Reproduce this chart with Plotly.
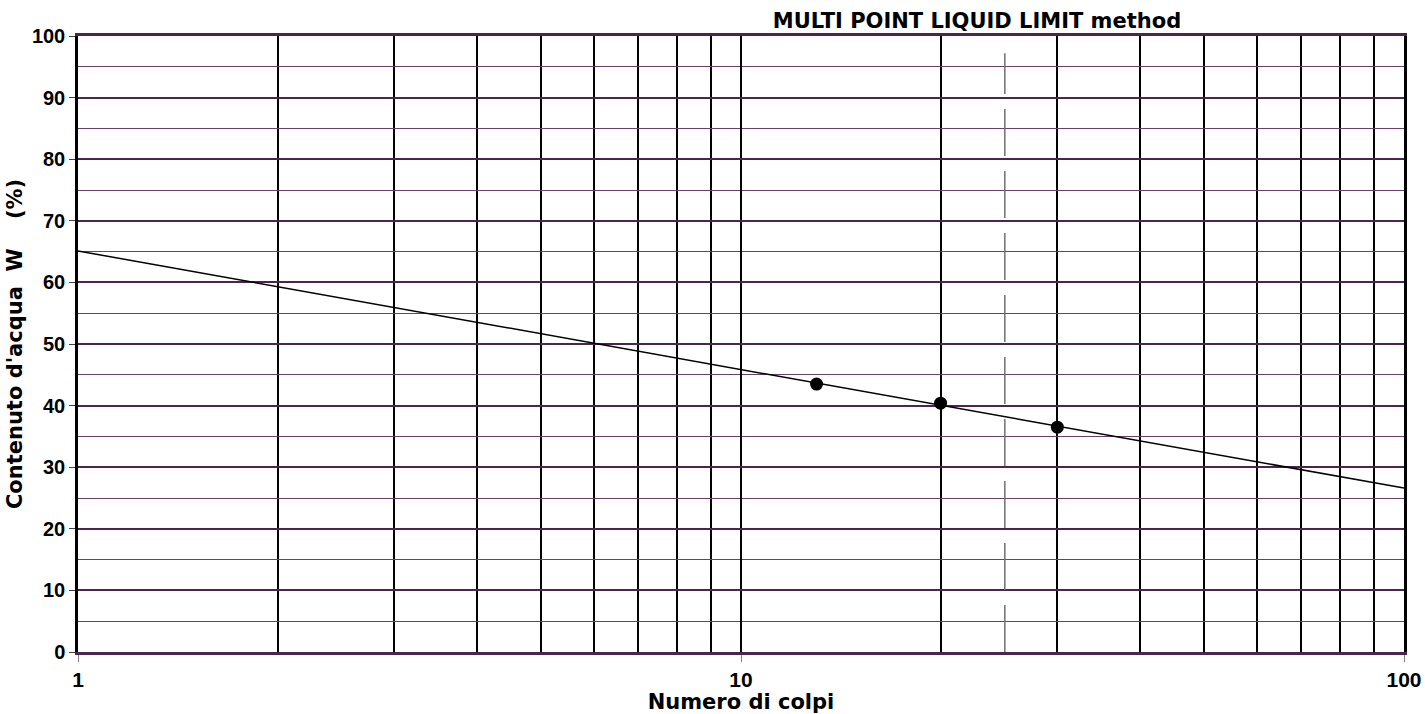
import numpy as np
import plotly.graph_objects as go

# Casagrande cup test results
blows = [13, 20, 30]            # numero di colpi
water = [43.5, 40.4, 36.5]      # contenuto d'acqua W (%)
ll_blows = 25                   # reference blow count for the liquid limit

x_major = [1, 10, 100]
x_minor = [2, 3, 4, 5, 6, 7, 8, 9, 20, 30, 40, 50, 60, 70, 80, 90]
y_ticks = list(range(0, 101, 10))

TICK_FONT = "Liberation Sans, Arial, sans-serif"
TITLE_FONT = "DejaVu Sans, Arial, sans-serif"
PURPLE = "#4f2350"

# Linear fit of W against log10(N), drawn across the whole axis range
slope, intercept = np.polyfit(np.log10(blows), water, 1)
fit_x = np.array([x_major[0], x_major[-1]], dtype=float)
fit_y = intercept + slope * np.log10(fit_x)

fig = go.Figure()

fig.add_trace(go.Scatter(
    x=fit_x, y=fit_y, mode="lines",
    line=dict(color="black", width=1.5),
    hoverinfo="skip", showlegend=False,
))
fig.add_trace(go.Scatter(
    x=blows, y=water, mode="markers",
    marker=dict(color="black", size=13),
    showlegend=False,
))

# dashed vertical line at the 25-blow reference
fig.add_shape(
    type="line", xref="x", yref="paper",
    x0=ll_blows, x1=ll_blows, y0=0, y1=0.972,
    line=dict(color="#707070", width=1.5, dash="47px,15px"),
    layer="above",
)

fig.update_layout(
    width=1425, height=714,
    margin=dict(l=78, r=21, t=36, b=62, autoexpand=False),
    paper_bgcolor="white", plot_bgcolor="white",
    font=dict(family=TICK_FONT, color="black"),
    title=dict(
        text="<b>MULTI POINT LIQUID LIMIT method</b>",
        font=dict(size=21, family=TITLE_FONT, color="black"),
        x=977 / 1425, xref="container", xanchor="center",
        y=1 - 21 / 714, yref="container", yanchor="middle",
    ),
)

fig.update_xaxes(
    type="log", range=[0, 2], automargin=False,
    tickvals=x_major, ticktext=[f"<b>{v}</b>" for v in x_major],
    tickfont=dict(size=21, family=TICK_FONT, color="black"),
    ticks="outside", ticklen=7, tickcolor="#808080", tickwidth=1,
    showgrid=True, gridcolor="black", gridwidth=1.5,
    minor=dict(tickmode="array", tickvals=x_minor, showgrid=True,
               gridcolor="black", gridwidth=1.5, ticks=""),
    showline=True, linecolor=PURPLE, linewidth=3, mirror=True,
    zeroline=False,
    title=dict(text="<b>Numero di colpi</b>",
               font=dict(size=21, family=TITLE_FONT, color="black"), standoff=2),
)

fig.update_yaxes(
    range=[0, 100], automargin=False,
    tickvals=y_ticks, ticktext=[f"<b>{v}</b>" for v in y_ticks],
    tickfont=dict(size=20, family=TICK_FONT, color="black"),
    ticks="outside", ticklen=6, tickcolor="#404040", tickwidth=1,
    showgrid=True, gridcolor=PURPLE, gridwidth=2,
    minor=dict(dtick=5, showgrid=True, gridcolor="#6a3f6b", gridwidth=1, ticks=""),
    showline=True, linecolor="black", linewidth=2.5, mirror=True,
    zeroline=False,
    title=dict(text="<b>Contenuto d'acqua&nbsp;&nbsp;W&nbsp;&nbsp;&nbsp;&nbsp;(%)</b>",
               font=dict(size=21, family=TITLE_FONT, color="black"), standoff=4),
)

fig.write_html("out.html")
